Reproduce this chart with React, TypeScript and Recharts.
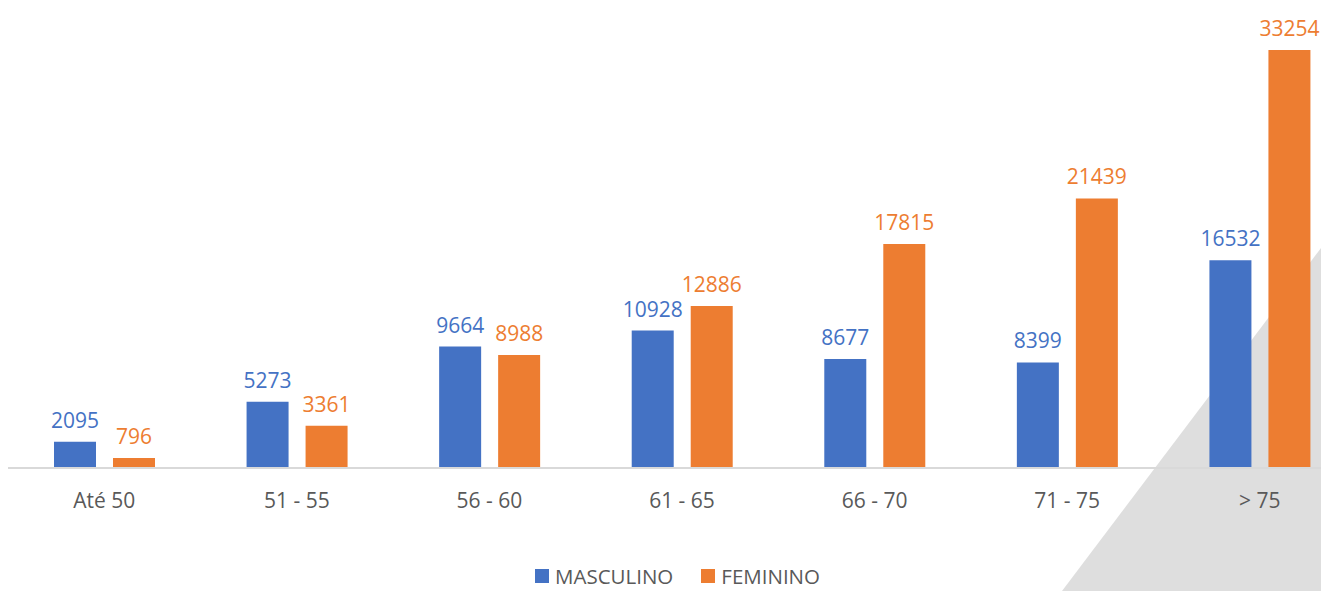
import { BarChart, Bar, XAxis, YAxis, LabelList } from "recharts";

const faixas = ["Até 50", "51 - 55", "56 - 60", "61 - 65", "66 - 70", "71 - 75", "> 75"];
const masculino = [2095, 5273, 9664, 10928, 8677, 8399, 16532];
const feminino = [796, 3361, 8988, 12886, 17815, 21439, 33254];

const AZUL = "#4472c4";
const LARANJA = "#ed7d31";
const FONT = "'Open Sans', sans-serif";

const data = faixas.map((faixa, i) => ({
  faixa,
  masculino: masculino[i],
  feminino: feminino[i],
}));

function Legenda() {
  const item = (cor: string, texto: string) => (
    <div style={{ display: "flex", alignItems: "center", gap: 6 }}>
      <div style={{ width: 14, height: 14, background: cor }} />
      <span>{texto}</span>
    </div>
  );
  return (
    <div
      style={{
        position: "absolute",
        top: 566,
        left: 535,
        display: "flex",
        gap: 28,
        fontFamily: FONT,
        fontSize: 20.5,
        color: "#595959",
        lineHeight: "20px",
      }}
    >
      {item(AZUL, "MASCULINO")}
      {item(LARANJA, "FEMININO")}
    </div>
  );
}

export default function App() {
  return (
    <div
      style={{
        position: "fixed",
        left: 0,
        top: 0,
        width: 1321,
        height: 591,
        overflow: "hidden",
        background: "#fff",
      }}
    >
      {/* triangulo cinza decorativo no canto */}
      <svg width={1321} height={591} style={{ position: "absolute", left: 0, top: 0 }}>
        <polygon points="1062,591 1321,591 1321,248" fill="#dedede" />
      </svg>

      <div style={{ position: "absolute", left: 0, top: 0 }}>
        <BarChart
          width={1370}
          height={591}
          data={data}
          margin={{ top: 28, right: 14, left: 8, bottom: 63 }}
          barSize={42}
          barGap={17}
        >
          <XAxis
            dataKey="faixa"
            height={60}
            tickLine={false}
            tickMargin={19}
            axisLine={{ stroke: "#d9d9d9", strokeWidth: 2 }}
            tick={{ fill: "#595959", fontSize: 21, fontFamily: FONT }}
            interval={0}
          />
          <YAxis hide domain={[0, 35000]} />
          <Bar dataKey="masculino" fill={AZUL} isAnimationActive={false}>
            <LabelList
              dataKey="masculino"
              position="top"
              offset={14}
              fill={AZUL}
              fontSize={21}
              fontFamily={FONT}
            />
          </Bar>
          <Bar dataKey="feminino" fill={LARANJA} isAnimationActive={false}>
            <LabelList
              dataKey="feminino"
              position="top"
              offset={14}
              fill={LARANJA}
              fontSize={21}
              fontFamily={FONT}
            />
          </Bar>
        </BarChart>
      </div>

      <Legenda />
    </div>
  );
}
